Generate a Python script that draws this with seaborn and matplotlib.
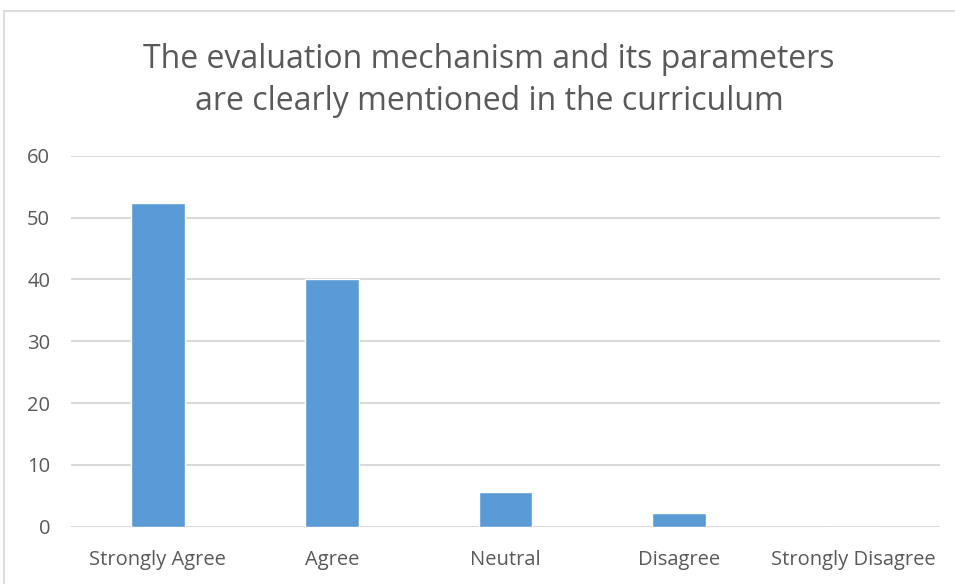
import matplotlib
matplotlib.use("Agg")
import matplotlib.pyplot as plt
import seaborn as sns
import pandas as pd
from matplotlib.patches import Rectangle

categories = ["Strongly Agree", "Agree", "Neutral", "Disagree", "Strongly Disagree"]
values = [52.3, 40.0, 5.6, 2.2, 0.0]
yticks = [0, 10, 20, 30, 40, 50, 60]
title = "The evaluation mechanism and its parameters\nare clearly mentioned in the curriculum"

df = pd.DataFrame({"response": categories, "percent": values})

sns.set_theme(style="white")
plt.rcParams['font.family'] = ['Open Sans', 'DejaVu Sans']

W, H = 955, 584
fig = plt.figure(figsize=(W / 100, H / 100), dpi=100)
ax = fig.add_axes([71 / W, 1 - 526.7 / H, (940 - 71) / W, (526.7 - 155.7) / H])

# chart frame, like the Excel chart area border
fig.patches.append(Rectangle((4 / W, -0.1), 1.2, 1 - 11 / H + 0.1, transform=fig.transFigure,
                             fill=False, edgecolor="#D9D9D9", linewidth=1.3))

sns.barplot(data=df, x="response", y="percent", color="#5B9BD5", width=0.31,
            saturation=1, ax=ax, zorder=3)

ax.set_ylim(0, 60)
ax.set_xlim(-0.5, len(categories) - 0.5)
ax.set_yticks(yticks)
ax.yaxis.grid(True, color="#D9D9D9", linewidth=1.5, zorder=0)
ax.set_axisbelow(True)
for s in ax.spines.values():
    s.set_visible(False)
ax.tick_params(axis="both", length=0, colors="#595959", labelsize=14.5)
ax.tick_params(axis="y", pad=15)
ax.tick_params(axis="x", pad=17)
ax.set_xlabel("")
ax.set_ylabel("")

fig.text(489 / W, 1 - 80.5 / H, title, ha="center", va="center", fontsize=23,
         color="#595959", linespacing=1.38)

fig.savefig("out.png", dpi=100)
